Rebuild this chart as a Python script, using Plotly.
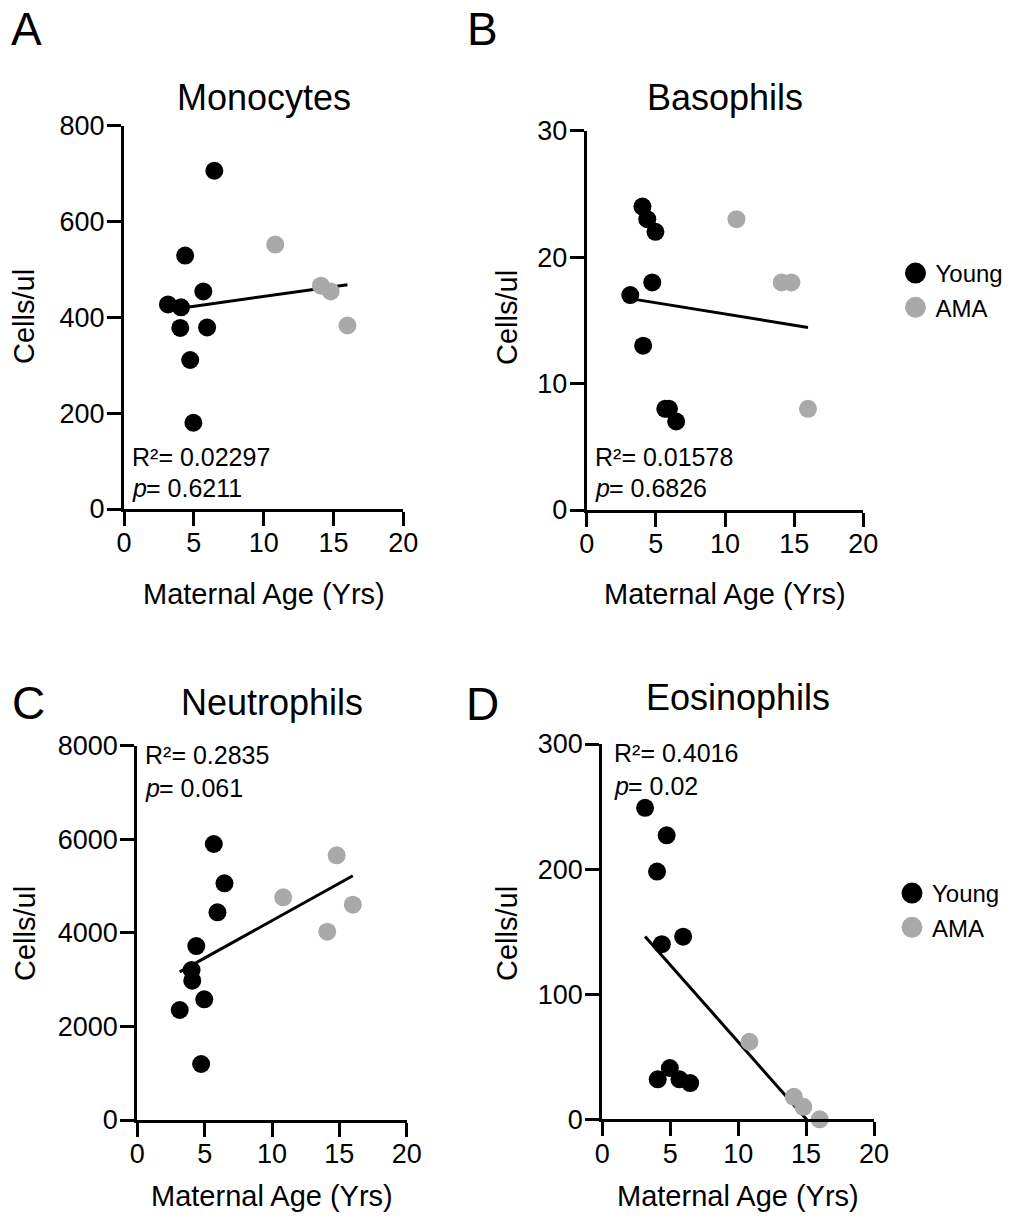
import numpy as np
import plotly.graph_objects as go

# ---------------- data ----------------
age_young = [3.15, 4.03, 4.08, 4.38, 4.74, 4.97, 5.68, 5.95, 6.47]
age_ama = [10.83, 14.1, 14.8, 16.0]

monocytes_young = [427, 378, 421, 529, 311, 180, 454, 379, 706]
monocytes_ama = [552, 466, 454, 383]

basophils_young = [17, 24, 13, 23, 18, 22, 8, 8, 7]
basophils_ama = [23, 18, 18, 8]

neutrophils_young = [2351, 3206, 2978, 3718, 1197, 2579, 5899, 4438, 5058]
neutrophils_ama = [4759, 4025, 5656, 4602]

eosinophils_young = [249, 198, 32, 140, 227, 41, 32, 146, 29]
eosinophils_ama = [62, 18, 10, 0]

panel_letters = ["A", "B", "C", "D"]
panel_titles = ["Monocytes", "Basophils", "Neutrophils", "Eosinophils"]
r2_text = ["0.02297", "0.01578", "0.2835", "0.4016"]
p_text = ["0.6211", "0.6826", "0.061", "0.02"]
y_ranges = [[0, 800], [0, 30], [0, 8000], [0, 300]]
y_dticks = [200, 10, 2000, 100]
x_ticks = [0, 5, 10, 15, 20]
group_names = ["Young", "AMA"]

# ---------------- style ----------------
W, H = 1019, 1225
FONT = "Liberation Sans, Arial, Helvetica, sans-serif"
BLACK = "#000000"
GREY = "#A9A9A9"


def px(x):
    """page pixel x -> paper fraction"""
    return x / W


def py(y):
    """page pixel y -> paper fraction"""
    return 1 - y / H


boxes = [
    (124.0, 403.3, 125.7, 509.0),
    (586.7, 863.3, 130.7, 510.0),
    (137.3, 406.7, 745.7, 1120.0),
    (602.3, 874.0, 744.0, 1119.3),
]
letter_pos = [(26.5, 28.5), (482, 28.5), (28, 703), (482, 704)]
title_pos = [(263.5, 97), (725, 97), (272, 702), (738, 697)]
xtitle_pos = [(264, 594), (725, 594), (272, 1196), (738, 1196)]
ytitle_pos = [(24, 317), (507, 318), (25, 934), (507, 934)]
stat_pos = [(130, 457, 488), (593, 457, 488), (143, 755, 788), (612, 753, 786)]

young_sets = [monocytes_young, basophils_young, neutrophils_young, eosinophils_young]
ama_sets = [monocytes_ama, basophils_ama, neutrophils_ama, eosinophils_ama]

fig = go.Figure()
annotations = []
layout_axes = {}


def ann(text, x, y, size, xanchor="center", angle=0, style="normal"):
    annotations.append(dict(
        text=text, x=px(x), y=py(y), xref="paper", yref="paper",
        xanchor=xanchor, yanchor="middle", showarrow=False, textangle=angle,
        font=dict(family=FONT, size=size, color=BLACK, style=style)))


for i in range(4):
    xa = "x" if i == 0 else f"x{i + 1}"
    ya = "y" if i == 0 else f"y{i + 1}"
    xkey = "xaxis" if i == 0 else f"xaxis{i + 1}"
    ykey = "yaxis" if i == 0 else f"yaxis{i + 1}"
    l, r, t, b = boxes[i]

    xs = np.array(age_young + age_ama, dtype=float)
    ys = np.array(young_sets[i] + ama_sets[i], dtype=float)
    slope, intercept = np.polyfit(xs, ys, 1)
    fit_x = np.array([xs.min(), xs.max()])
    fit_y = slope * fit_x + intercept

    fig.add_trace(go.Scatter(
        x=fit_x, y=fit_y, mode="lines", xaxis=xa, yaxis=ya,
        line=dict(color=BLACK, width=3), showlegend=False, hoverinfo="skip"))
    fig.add_trace(go.Scatter(
        x=age_young, y=young_sets[i], mode="markers", xaxis=xa, yaxis=ya,
        marker=dict(color=BLACK, size=18, line=dict(width=0)),
        cliponaxis=False, showlegend=False, name="Young"))
    fig.add_trace(go.Scatter(
        x=age_ama, y=ama_sets[i], mode="markers", xaxis=xa, yaxis=ya,
        marker=dict(color=GREY, size=18, line=dict(width=0)),
        cliponaxis=False, showlegend=False, name="AMA"))

    layout_axes[xkey] = dict(
        domain=[px(l), px(r)], anchor=ya, range=[0, 20],
        tickmode="array", tickvals=x_ticks,
        showline=True, linewidth=3, linecolor=BLACK,
        ticks="outside", ticklen=14, tickwidth=3, tickcolor=BLACK,
        ticklabelstandoff=-6, automargin=False,
        showgrid=False, zeroline=False,
        tickfont=dict(family=FONT, size=27, color=BLACK), fixedrange=True)
    layout_axes[ykey] = dict(
        domain=[py(b), py(t)], anchor=xa, range=y_ranges[i],
        tick0=0, dtick=y_dticks[i],
        showline=True, linewidth=3, linecolor=BLACK,
        ticks="outside", ticklen=14, tickwidth=3, tickcolor=BLACK,
        ticklabelstandoff=-3, automargin=False,
        showgrid=False, zeroline=False,
        tickfont=dict(family=FONT, size=27, color=BLACK), fixedrange=True)

    ann(panel_letters[i], letter_pos[i][0], letter_pos[i][1], 46)
    ann(panel_titles[i], title_pos[i][0], title_pos[i][1], 36)
    ann("Maternal Age (Yrs)", xtitle_pos[i][0], xtitle_pos[i][1], 29)
    ann("Cells/ul", ytitle_pos[i][0], ytitle_pos[i][1], 29, angle=-90)
    sx, sy1, sy2 = stat_pos[i]
    ann(f"R\u00b2= {r2_text[i]}", sx, sy1, 25, xanchor="left")
    ann("p", sx, sy2, 25, xanchor="left", style="italic")
    ann(f"= {p_text[i]}", sx + 14, sy2, 25, xanchor="left")

# legend-only entries
for leg in ["legend", "legend2"]:
    for name, col in zip(group_names, [BLACK, GREY]):
        fig.add_trace(go.Scatter(
            x=[None], y=[None], mode="markers", name=name, legend=leg,
            marker=dict(color=col, size=16, line=dict(color=col, width=5)),
            showlegend=True, hoverinfo="skip"))

leg_style = dict(
    xanchor="left", yanchor="top", bgcolor="rgba(0,0,0,0)", borderwidth=0,
    font=dict(family=FONT, size=24, color=BLACK), tracegroupgap=0,
    itemsizing="trace")

fig.update_layout(
    width=W, height=H,
    margin=dict(l=0, r=0, t=0, b=0, pad=0, autoexpand=False),
    paper_bgcolor="white", plot_bgcolor="white",
    showlegend=True,
    legend=dict(x=px(895.5), y=py(251), **leg_style),
    legend2=dict(x=px(892), y=py(871), **leg_style),
    annotations=annotations,
    **layout_axes)

fig.write_html("out.html")
